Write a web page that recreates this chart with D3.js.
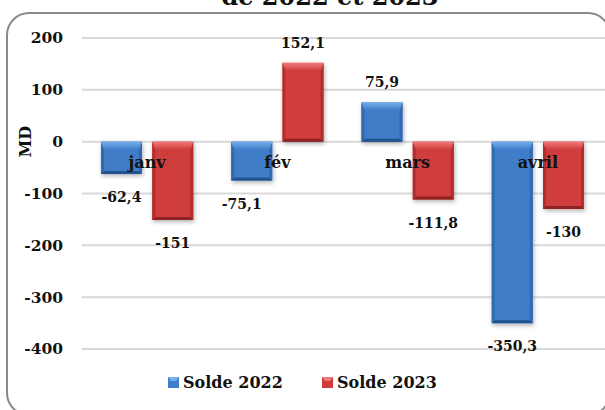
<!DOCTYPE html>
<html><head><meta charset="utf-8">
<script src="https://cdn.jsdelivr.net/npm/d3@7"></script>
<style>
html,body{margin:0;padding:0;background:#fff;}
svg{display:block;}
text{font-family:"DejaVu Serif",serif;font-weight:bold;fill:#111;}
</style></head>
<body>
<script>
const categories = ["janv", "fév", "mars", "avril"];
const series = ["Solde 2022", "Solde 2023"];
const solde2022 = [-62.4, -75.1, 75.9, -350.3];
const solde2023 = [-151, 152.1, -111.8, -130];
const yTicks = [200, 100, 0, -100, -200, -300, -400];
const titleText = "de 2022 et 2023";
const axisTitle = "MD";

const W = 605, H = 410;
const svg = d3.select("body").append("svg").attr("width", W).attr("height", H);
svg.append("rect").attr("width", W).attr("height", H).attr("fill", "#fff");

const defs = svg.append("defs");
const f = defs.append("filter").attr("id", "shadow").attr("x", "-30%").attr("y", "-30%").attr("width", "160%").attr("height", "160%");
f.append("feDropShadow").attr("dx", 1).attr("dy", 2).attr("stdDeviation", 2).attr("flood-color", "#000").attr("flood-opacity", 0.3);

const palettes = {
  "Solde 2022": {base: "#3f7dc8", light: "#78aeec", side: "#3069b0", bottom: "#24538f"},
  "Solde 2023": {base: "#d03c3c", light: "#f07a7a", side: "#b22f2f", bottom: "#8e2222"}
};
series.forEach((s, i) => {
  const p = palettes[s];
  const g = defs.append("linearGradient").attr("id", "top" + i).attr("x1", 0).attr("y1", 0).attr("x2", 0).attr("y2", 1);
  g.append("stop").attr("offset", "0%").attr("stop-color", p.light);
  g.append("stop").attr("offset", "100%").attr("stop-color", p.base);
});

// frame
svg.append("rect").attr("x", 7).attr("y", 13).attr("width", 603).attr("height", 402)
  .attr("rx", 22).attr("ry", 22).attr("fill", "none").attr("stroke", "#8a8a8a").attr("stroke-width", 2);

// title (cut at top, as in the reference)
svg.append("text").attr("x", 330).attr("y", 5).attr("text-anchor", "middle")
  .style("font-size", "24px").text(titleText);

const y = d3.scaleLinear().domain([-400, 200]).range([349, 38]);
const x0 = d3.scaleBand().domain(categories).range([82, 603]).paddingInner(0).paddingOuter(0);
const x1 = d3.scaleBand().domain(series).range([0, x0.bandwidth()]).paddingInner(0.2).paddingOuter(0.37);

// gridlines
svg.append("g").selectAll("line").data(yTicks).join("line")
  .attr("x1", 82).attr("x2", 605).attr("y1", d => y(d)).attr("y2", d => y(d))
  .attr("stroke", "#d9d9d9").attr("stroke-width", 2);

// y tick labels
svg.append("g").selectAll("text").data(yTicks).join("text")
  .attr("x", 63).attr("y", d => y(d)).attr("dy", "0.35em").attr("text-anchor", "end")
  .style("font-size", "15.5px").text(d => d);

// axis title
svg.append("text").attr("transform", `translate(31,${y(0)}) rotate(-90)`)
  .attr("text-anchor", "middle").style("font-size", "16px").text(axisTitle);

const data = [];
categories.forEach((c, ci) => {
  data.push({cat: c, s: series[0], si: 0, v: solde2022[ci]});
  data.push({cat: c, s: series[1], si: 1, v: solde2023[ci]});
});

const bars = svg.append("g").selectAll("g").data(data).join("g").attr("filter", "url(#shadow)");
bars.each(function(d) {
  const g = d3.select(this);
  const p = palettes[d.s];
  const bx = x0(d.cat) + x1(d.s), w = x1.bandwidth();
  const top = y(Math.max(0, d.v)), bot = y(Math.min(0, d.v));
  const h = bot - top;
  const bt = Math.min(8, h / 2), bs = Math.min(3, w / 4), bb = Math.min(3, h / 4);
  g.append("rect").attr("x", bx).attr("y", top).attr("width", w).attr("height", h).attr("fill", p.base);
  g.append("polygon").attr("points", [[bx, top], [bx + bs, top + bt], [bx + bs, bot - bb], [bx, bot]].join(" ")).attr("fill", p.side);
  g.append("polygon").attr("points", [[bx + w, top], [bx + w - bs, top + bt], [bx + w - bs, bot - bb], [bx + w, bot]].join(" ")).attr("fill", p.side);
  g.append("polygon").attr("points", [[bx, bot], [bx + bs, bot - bb], [bx + w - bs, bot - bb], [bx + w, bot]].join(" ")).attr("fill", p.bottom);
  g.append("polygon").attr("points", [[bx, top], [bx + w, top], [bx + w - bs, top + bt], [bx + bs, top + bt]].join(" ")).attr("fill", `url(#top${d.si})`);
});

// category labels
svg.append("g").selectAll("text").data(categories).join("text")
  .attr("x", d => x0(d) + x0.bandwidth() / 2).attr("y", y(0) + 26)
  .attr("text-anchor", "middle").style("font-size", "16px").text(d => d);

// value labels
const fmt = v => String(v).replace(".", ",");
const labelShift = {"fév|Solde 2022": -10};
svg.append("g").selectAll("text").data(data).join("text")
  .attr("x", d => x0(d.cat) + x1(d.s) + x1.bandwidth() / 2 + (labelShift[d.cat + "|" + d.s] || 0))
  .attr("y", d => d.v >= 0 ? y(d.v) - 15 : y(d.v) + 28)
  .attr("text-anchor", "middle").style("font-size", "14px").text(d => fmt(d.v));

// legend
const leg = svg.append("g");
const legX = [168, 322];
series.forEach((s, i) => {
  const p = palettes[s];
  leg.append("rect").attr("x", legX[i]).attr("y", 377).attr("width", 11).attr("height", 11).attr("fill", p.base);
  leg.append("polygon").attr("points", [[legX[i], 377], [legX[i] + 11, 377], [legX[i] + 8, 381], [legX[i] + 3, 381]].join(" ")).attr("fill", p.light);
  leg.append("text").attr("x", legX[i] + 15).attr("y", 388).style("font-size", "16px").text(s);
});
</script>
</body></html>
